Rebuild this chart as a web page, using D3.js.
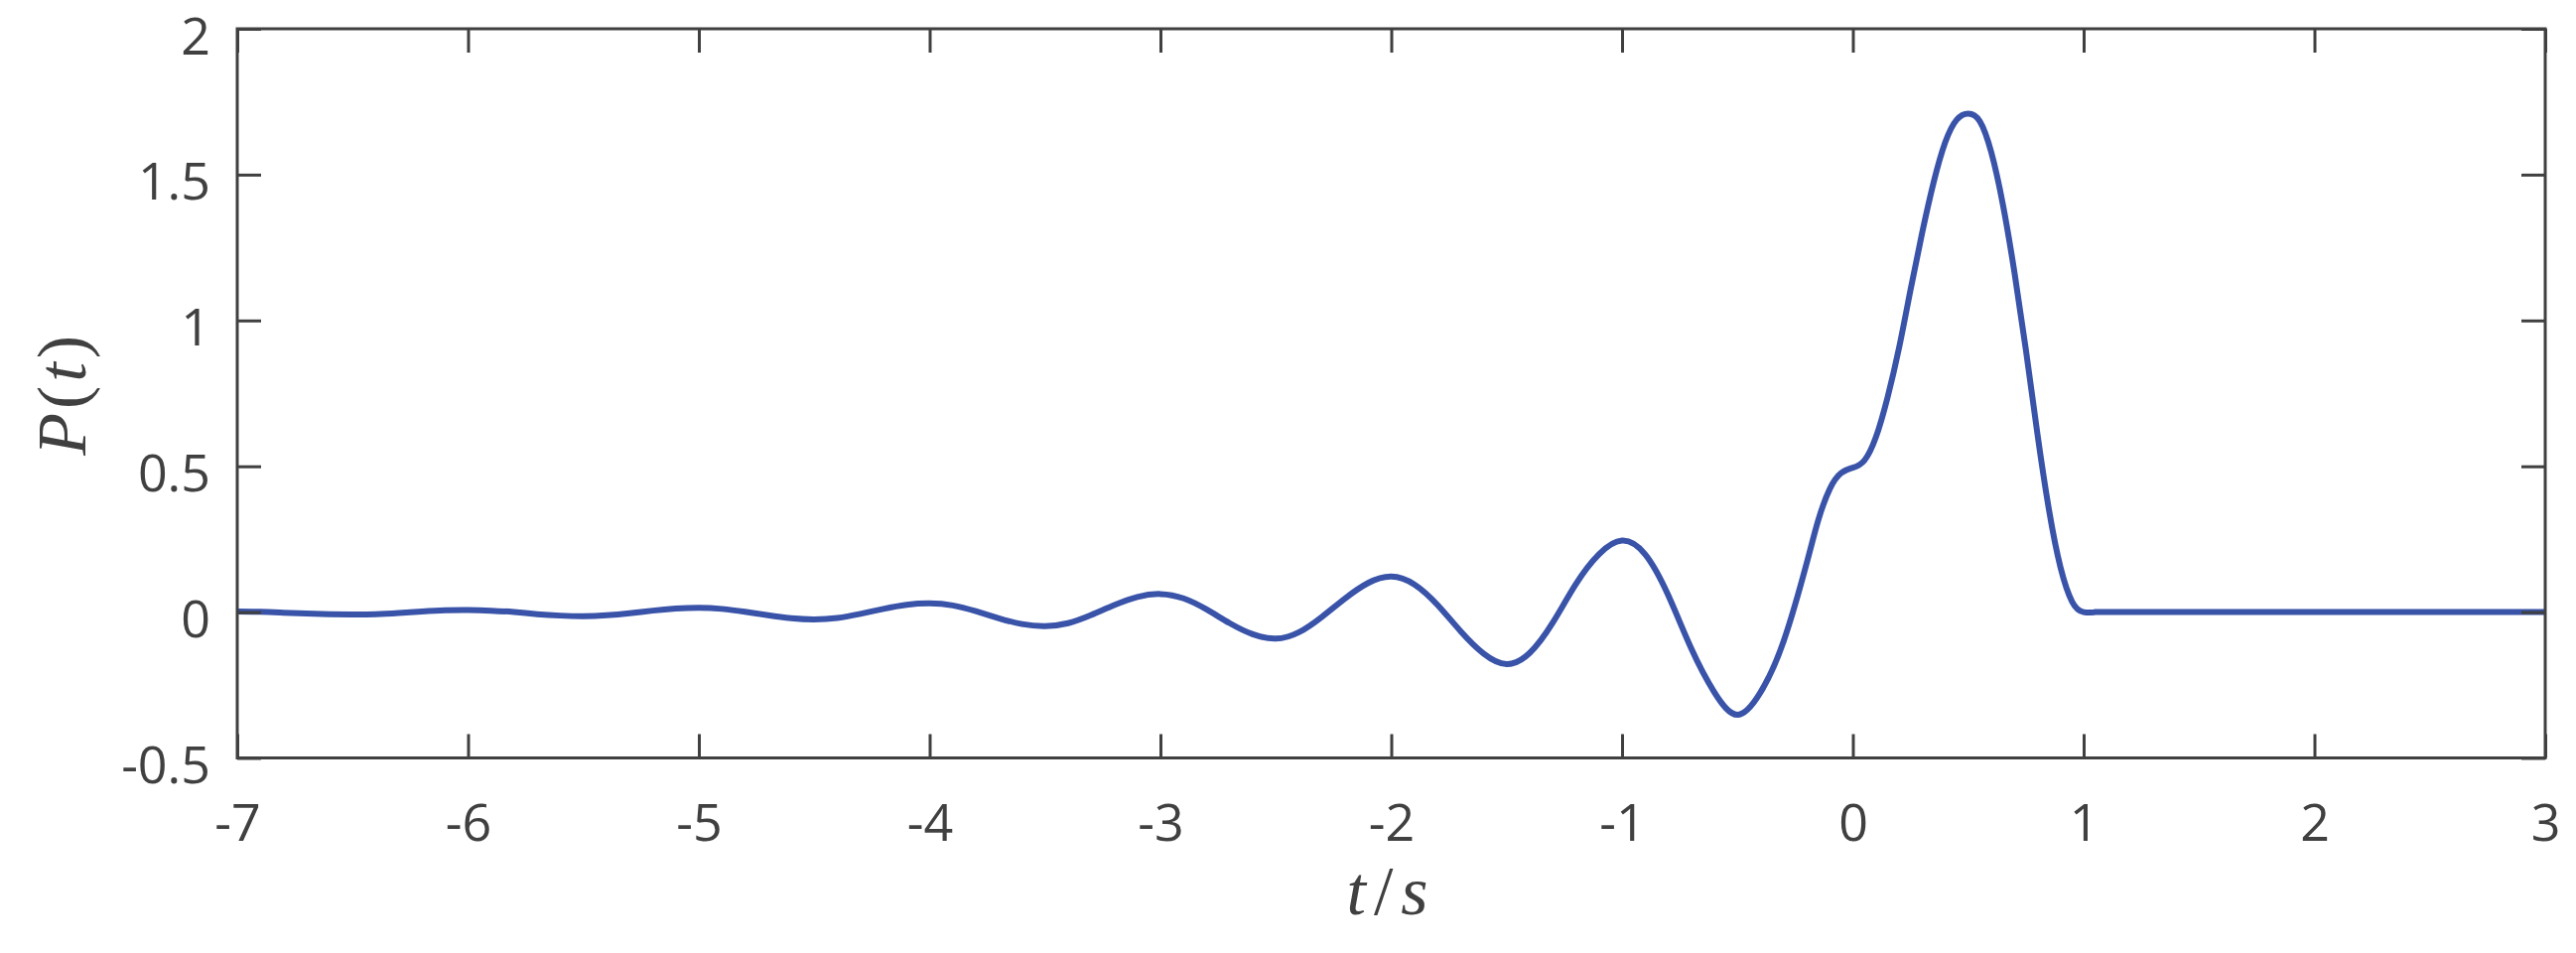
<!DOCTYPE html>
<html>
<head>
<meta charset="utf-8">
<script src="https://cdn.jsdelivr.net/npm/d3@7"></script>
<style>
  html, body { margin: 0; padding: 0; background: #ffffff; }
  svg { display: block; }
</style>
</head>
<body>
<svg id="chart" width="2595" height="960"></svg>
<script>
// ---- data ----
const tValues = [
  -7.0, -6.9, -6.8, -6.7, -6.6, -6.5, -6.4, -6.3, -6.2, -6.1,
  -6.0, -5.9, -5.8, -5.7, -5.6, -5.5, -5.4, -5.3, -5.2, -5.1,
  -5.0, -4.9, -4.8, -4.7, -4.6, -4.5, -4.4, -4.3, -4.2, -4.1,
  -4.0, -3.9, -3.8, -3.7, -3.6, -3.5, -3.4, -3.3, -3.2, -3.1,
  -3.0, -2.9, -2.8, -2.7, -2.6, -2.5, -2.4, -2.3, -2.2, -2.1,
  -2.0, -1.9, -1.8, -1.7, -1.6, -1.5, -1.4, -1.3, -1.2, -1.1,
  -1.0, -0.9, -0.8, -0.7, -0.6, -0.5, -0.4, -0.3, -0.2,
  -0.15, -0.1, -0.05, 0, 0.05, 0.1, 0.15, 0.2, 0.25, 0.3, 0.35, 0.4, 0.45,
  0.5, 0.55, 0.6, 0.65, 0.7, 0.75, 0.8, 0.85, 0.9, 0.95, 1.0, 1.05, 1.1,
  1.5, 2, 2.5, 3
];
const pValues = [
  0.002, 0.001, -0.002, -0.005, -0.007, -0.008, -0.007, -0.003, 0.002, 0.006,
  0.007, 0.005, 0.000, -0.007, -0.012, -0.014, -0.011, -0.004, 0.005, 0.012,
  0.015, 0.011, 0.001, -0.011, -0.021, -0.025, -0.020, -0.006, 0.011, 0.025,
  0.030, 0.023, 0.003, -0.021, -0.041, -0.048, -0.038, -0.010, 0.024, 0.052,
  0.062, 0.047, 0.009, -0.038, -0.076, -0.091, -0.069, -0.016, 0.047, 0.100,
  0.122, 0.095, 0.025, -0.065, -0.142, -0.178, -0.140, -0.036, 0.096, 0.198,
  0.245, 0.198, 0.058, -0.125, -0.275, -0.352, -0.275, -0.100, 0.168,
  0.315, 0.422, 0.477, 0.495, 0.520, 0.600, 0.735, 0.905, 1.105, 1.299, 1.473, 1.610, 1.688,
  1.709, 1.683, 1.576, 1.398, 1.166, 0.898, 0.610, 0.350, 0.153, 0.036, 0.000, 0, 0,
  0, 0, 0, 0
];
const xTicks = [-7, -6, -5, -4, -3, -2, -1, 0, 1, 2, 3];
const yTicks = [-0.5, 0, 0.5, 1, 1.5, 2];
const xTickLabels = ["-7", "-6", "-5", "-4", "-3", "-2", "-1", "0", "1", "2", "3"];
const yTickLabels = ["-0.5", "0", "0.5", "1", "1.5", "2"];

// ---- layout ----
const L = 239, R = 2564, T = 29, B = 763.5;
const axisColor = "#404040";
const lineColor = "#3953a8";
const tickLen = 24;

const svg = d3.select("#chart");
svg.append("rect").attr("width", 2595).attr("height", 960).attr("fill", "#fff");

const x = d3.scaleLinear().domain([-7, 3]).range([L, R]);
const y = d3.scaleLinear().domain([-0.5, 2]).range([B, T]);

const data = tValues.map((t, i) => ({ t, p: pValues[i] }));

// curve
const line = d3.line().x(d => x(d.t)).y(d => y(d.p)).curve(d3.curveNatural);
svg.append("path")
  .datum(data)
  .attr("d", line)
  .attr("fill", "none")
  .attr("stroke", lineColor)
  .attr("stroke-width", 6)
  .attr("stroke-linejoin", "round");

const fontTick = "'Open Sans', 'Noto Sans', sans-serif";

// bottom axis
const xBottom = d3.axisBottom(x).tickValues(xTicks).tickSize(-tickLen).tickPadding(0)
  .tickFormat((d, i) => xTickLabels[i]);
const gB = svg.append("g").attr("transform", `translate(0,${B})`).call(xBottom);
gB.selectAll("text").attr("dy", 0).attr("y", 83)
  .attr("font-family", fontTick).attr("font-size", 52).attr("fill", axisColor);

// top axis
const xTop = d3.axisTop(x).tickValues(xTicks).tickSize(-tickLen).tickFormat("");
svg.append("g").attr("transform", `translate(0,${T})`).call(xTop);

// left axis
const yLeft = d3.axisLeft(y).tickValues(yTicks).tickSize(-tickLen).tickPadding(0)
  .tickFormat((d, i) => yTickLabels[i]);
const gL = svg.append("g").attr("transform", `translate(${L},0)`).call(yLeft);
gL.selectAll("text").attr("x", -27).attr("dy", 25)
  .attr("font-family", fontTick).attr("font-size", 52).attr("fill", axisColor);

// right axis
const yRight = d3.axisRight(y).tickValues(yTicks).tickSize(-tickLen).tickFormat("");
svg.append("g").attr("transform", `translate(${R},0)`).call(yRight);

svg.selectAll(".domain").remove();
svg.selectAll(".tick line").attr("stroke", axisColor).attr("stroke-width", 3);

// box
svg.append("rect")
  .attr("x", L).attr("y", T).attr("width", R - L).attr("height", B - T)
  .attr("fill", "none").attr("stroke", axisColor).attr("stroke-width", 3);

// axis labels
const fontMath = "'Liberation Serif', 'DejaVu Serif', serif";
const xl = svg.append("text")
  .attr("x", (L + R) / 2).attr("y", 921)
  .attr("text-anchor", "middle")
  .attr("font-family", fontMath).attr("font-size", 70).attr("fill", axisColor)
  .attr("letter-spacing", 8);
xl.append("tspan").attr("font-style", "italic").text("t");
xl.append("tspan").text("/");
xl.append("tspan").attr("font-style", "italic").text("s");

const yl = svg.append("text")
  .attr("transform", `translate(86,${(T + B) / 2}) rotate(-90)`)
  .attr("text-anchor", "middle")
  .attr("font-family", fontMath).attr("font-size", 70).attr("fill", axisColor)
  .attr("letter-spacing", 4);
yl.append("tspan").attr("font-style", "italic").text("P");
yl.append("tspan").text("(");
yl.append("tspan").attr("font-style", "italic").text("t");
yl.append("tspan").text(")");
</script>
</body>
</html>
